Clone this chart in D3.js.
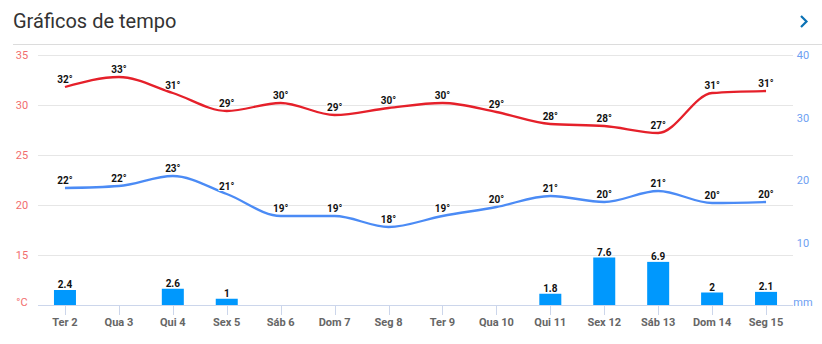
<!DOCTYPE html>
<html><head><meta charset="utf-8">
<script src="https://cdn.jsdelivr.net/npm/d3@7"></script>
<style>
body{margin:0;background:#fff;font-family:Roboto,"Noto Sans",sans-serif;}
svg{display:block}
</style></head>
<body><svg id="c" width="822" height="344"></svg>
<script>
const days = ["Ter 2","Qua 3","Qui 4","Sex 5","Sáb 6","Dom 7","Seg 8","Ter 9","Qua 10","Qui 11","Sex 12","Sáb 13","Dom 14","Seg 15"];
const tMax = [31.8,32.8,31.2,29.4,30.2,29.0,29.7,30.2,29.3,28.1,27.9,27.2,31.2,31.4];
const tMin = [21.7,21.9,22.9,21.1,18.9,18.9,17.8,18.9,19.8,20.9,20.3,21.4,20.2,20.3];
const rain = [2.4,0,2.6,1,0,0,0,0,0,1.8,7.6,6.9,2,2.1];
const leftTicks = [15,20,25,30,35];
const rightTicks = [10,20,30,40];

const svg = d3.select("#c");
const pLeft = 38, pRight = 793, pTop = 55, pBottom = 305;
const x = d3.scaleBand().domain(days).range([pLeft, pRight]);
const yT = d3.scaleLinear().domain([10,35]).range([pBottom, pTop]);
const yR = d3.scaleLinear().domain([0,40]).range([pBottom, pTop]);
const cx = d => x(d) + x.bandwidth()/2;

// title
svg.append("text").attr("x",13).attr("y",28).attr("font-size",20).attr("fill","#333")
  .attr("font-family","Roboto").text("Gráficos de tempo");
svg.append("path").attr("d","M801,16 L806.5,21.5 L801,27").attr("fill","none")
  .attr("stroke","#0b72b5").attr("stroke-width",2.2);
svg.append("line").attr("x1",13).attr("x2",822).attr("y1",44.5).attr("y2",44.5)
  .attr("stroke","#dcdcdc").attr("stroke-width",1);

// grid
svg.append("g").selectAll("line").data(leftTicks).join("line")
  .attr("x1",pLeft).attr("x2",pRight).attr("y1",d=>Math.round(yT(d))+0.5).attr("y2",d=>Math.round(yT(d))+0.5)
  .attr("stroke","#e6e6e6");

// left labels
svg.append("g").selectAll("text").data(leftTicks).join("text")
  .attr("x",22).attr("y",d=>yT(d)+4).attr("text-anchor","middle")
  .attr("font-size",11).attr("fill","#f26d6d").text(d=>d);
svg.append("text").attr("x",22).attr("y",yT(10)+1).attr("text-anchor","middle")
  .attr("font-size",11).attr("fill","#f26d6d").text("°C");

// right labels
svg.append("g").selectAll("text").data(rightTicks).join("text")
  .attr("x",803).attr("y",d=>yR(d)+4).attr("text-anchor","middle")
  .attr("font-size",11).attr("fill","#6ea0f2").text(d=>d);
svg.append("text").attr("x",803).attr("y",yR(0)+1).attr("text-anchor","middle")
  .attr("font-size",11).attr("fill","#6ea0f2").text("mm");

// bars
const rainData = days.map((d,i)=>({d,v:rain[i]})).filter(o=>o.v>0);
svg.append("g").selectAll("rect").data(rainData).join("rect")
  .attr("x",o=>cx(o.d)-11).attr("width",22)
  .attr("y",o=>yR(o.v)).attr("height",o=>yR(0)-yR(o.v)).attr("fill","#0098fd");
svg.append("g").selectAll("text").data(rainData).join("text")
  .attr("x",o=>cx(o.d)).attr("y",o=>yR(o.v)-2).attr("text-anchor","middle")
  .attr("font-size",10).attr("font-weight","bold").attr("fill","#111")
  .attr("stroke","#fff").attr("stroke-width",2).attr("paint-order","stroke").text(o=>o.v);

// x axis
svg.append("line").attr("x1",pLeft).attr("x2",pRight).attr("y1",pBottom+0.5).attr("y2",pBottom+0.5)
  .attr("stroke","#ccd6eb");
svg.append("g").selectAll("line").data(days).join("line")
  .attr("x1",d=>Math.round(cx(d))+0.5).attr("x2",d=>Math.round(cx(d))+0.5)
  .attr("y1",pBottom).attr("y2",pBottom+10).attr("stroke","#ccd6eb");
svg.append("g").selectAll("text").data(days).join("text")
  .attr("x",d=>cx(d)).attr("y",326).attr("text-anchor","middle")
  .attr("font-size",11).attr("font-weight","bold").attr("fill","#666").text(d=>d);

// lines
const line = (arr,y) => d3.line().x((v,i)=>cx(days[i])).y(v=>y(v)).curve(d3.curveMonotoneX)(arr);
svg.append("path").attr("d",line(tMax,yT)).attr("fill","none").attr("stroke","#e5202a").attr("stroke-width",2.3);
svg.append("path").attr("d",line(tMin,yT)).attr("fill","none").attr("stroke","#4b8bf5").attr("stroke-width",2.3);

function labels(arr){
  svg.append("g").selectAll("text").data(arr).join("text")
    .attr("x",(v,i)=>cx(days[i])).attr("y",v=>yT(v)-4.5).attr("text-anchor","middle")
    .attr("font-size",10).attr("font-weight","bold").attr("fill","#111")
    .attr("stroke","#fff").attr("stroke-width",2).attr("paint-order","stroke")
    .text(v=>Math.round(v)+"°");
}
labels(tMax); labels(tMin);
</script></body></html>
